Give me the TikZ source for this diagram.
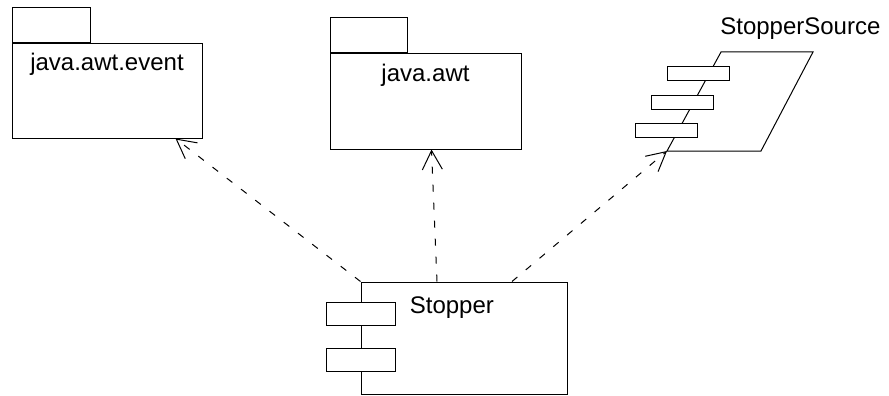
\documentclass[tikz,border=0pt]{standalone}
\usepackage{fontspec}
\setmainfont{Liberation Sans}
\usetikzlibrary{calc, positioning, arrows.meta}

\begin{document}
\begin{tikzpicture}[
  x=1pt, y=-1pt,
  font=\fontsize{24}{28}\selectfont,
  line width=1pt,
  pkg/.style={draw, minimum width=190pt, minimum height=94pt, inner sep=0pt},
  tab/.style={draw, minimum width=78pt, minimum height=35pt, inner sep=0pt, anchor=south west},
  comp/.style={draw, minimum width=206pt, minimum height=112pt, inner sep=0pt},
  port/.style={draw, fill=white, minimum width=69pt, minimum height=23pt, inner sep=0pt},
  sport/.style={port, minimum width=62pt, minimum height=14pt},
  dep/.style={dash pattern=on 7pt off 11pt, -{Straight Barb[length=19pt, width=20pt]}}
]
\useasboundingbox (0,0) rectangle (889,396);

\node[pkg] (event) at (107,91) {};
\node[tab] (eventtab) at (event.north west) {};
\node[below=6pt of event.north] (eventname) {java.awt.event};

\node[pkg, minimum width=191pt, minimum height=95pt] (awt) at (425.5,101.5) {};
\node[tab, minimum width=77pt] (awttab) at (awt.north west) {};
\node[below=7pt of awt.north] (awtname) {java.awt};

\draw (721,52) -- (813,52) -- (761,151) -- (667,151) coordinate (src) -- cycle;
\foreach \x/\y [count=\i] in {698/74, 682.5/102, 666.5/130} \node[sport] (sport\i) at (\x,\y) {};
\node[anchor=base west] (srcname) at (716.5,35) {StopperSource};

\node[comp] (stopper) at (464,338) {};
\node[anchor=north west] (stoppername) at ([xshift=45.5pt, yshift=-11.5pt]stopper.north west) {Stopper};
\foreach \dy [count=\i] in {32.5pt, 78.5pt} \node[port] (port\i) at ([yshift=-\dy]stopper.north west) {};

\draw[dep] (stopper.north west) -- ([xshift=-27pt]event.south east);
\draw[dep] ([xshift=-27pt]stopper.north) -- ([xshift=6pt]awt.south);
\draw[dep] ([xshift=48pt]stopper.north) -- (src);
\end{tikzpicture}
\end{document}
